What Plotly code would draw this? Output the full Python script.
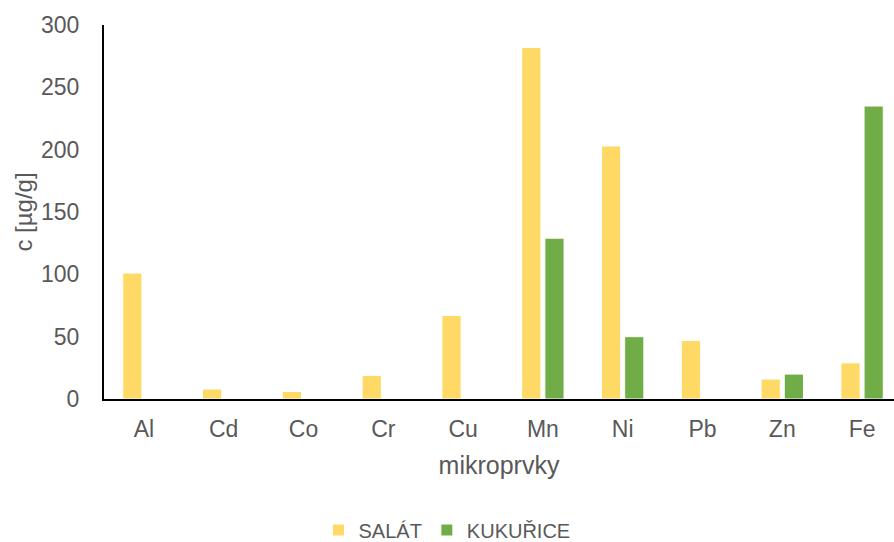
import plotly.graph_objects as go

categories = ["Al", "Cd", "Co", "Cr", "Cu", "Mn", "Ni", "Pb", "Zn", "Fe"]
salat = [101, 8, 6, 19, 67, 282, 203, 47, 16, 29]
kukurice = [0, 0, 0, 0, 0, 129, 50, 0, 20, 235]
y_ticks = [0, 50, 100, 150, 200, 250, 300]

fig = go.Figure()
fig.add_trace(go.Bar(x=categories, y=salat, name="SALÁT",
                     marker=dict(color="#FFD966", line=dict(color="white", width=1))))
fig.add_trace(go.Bar(x=categories, y=kukurice, name="KUKUŘICE",
                     marker=dict(color="#70AD47", line=dict(color="white", width=1))))

fig.update_layout(
    width=894, height=542,
    margin=dict(l=104, r=0, t=25, b=143),
    paper_bgcolor="white", plot_bgcolor="white",
    font=dict(family="Liberation Sans, Arial, sans-serif", color="#595959", size=23),
    barmode="group", bargap=0.42, bargroupgap=0.17,
    showlegend=True,
    legend=dict(orientation="h", x=0.5, xanchor="center", xref="container",
                y=(542 - 530) / 542, yanchor="middle", yref="container",
                font=dict(size=20, color="#595959"), itemwidth=30, traceorder="normal"),
    xaxis=dict(showline=True, linecolor="black", linewidth=2, ticks="", showgrid=False,
               automargin=False, ticklabelstandoff=8, range=[-0.5, 9.4],
               title=dict(text="mikroprvky", font=dict(size=25, color="#595959"), standoff=16),
               tickfont=dict(size=23, color="#595959")),
    yaxis=dict(range=[0, 300], tickvals=y_ticks, showline=True, linecolor="black", linewidth=2,
               showgrid=False, zeroline=False, ticks="", automargin=False,
               ticklabelstandoff=18,
               title=dict(text="c [µg/g]", font=dict(size=24, color="#595959"), standoff=2),
               tickfont=dict(size=23, color="#595959")),
)

fig.write_html("out.html", post_script="document.body.style.margin='0';",
               config={"displayModeBar": False})
